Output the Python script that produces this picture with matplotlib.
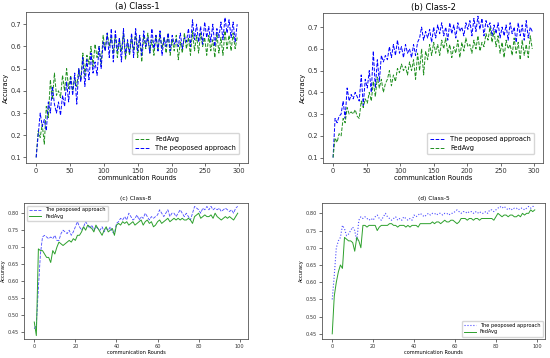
import numpy as np
import matplotlib.pyplot as plt

# (a) Class-1 / (b) Class-2: 300 rounds, sampled every 3 rounds
x_top = np.arange(0, 300, 3)

a_fedavg = [0.10, 0.22, 0.19, 0.25, 0.16, 0.33, 0.28, 0.45, 0.36, 0.48,
            0.38, 0.40, 0.37, 0.47, 0.40, 0.50, 0.41, 0.47, 0.40, 0.46,
            0.42, 0.50, 0.45, 0.57, 0.47, 0.56, 0.52, 0.60, 0.51, 0.61,
            0.55, 0.60, 0.52, 0.65, 0.58, 0.66, 0.60, 0.64, 0.57, 0.65,
            0.55, 0.63, 0.58, 0.66, 0.54, 0.62, 0.56, 0.64, 0.58, 0.66,
            0.55, 0.64, 0.53, 0.65, 0.59, 0.66, 0.57, 0.63, 0.56, 0.65,
            0.58, 0.66, 0.59, 0.64, 0.57, 0.66, 0.56, 0.63, 0.58, 0.65,
            0.54, 0.62, 0.57, 0.66, 0.59, 0.64, 0.56, 0.67, 0.58, 0.65,
            0.57, 0.66, 0.60, 0.64, 0.56, 0.65, 0.58, 0.63, 0.55, 0.66,
            0.57, 0.64, 0.56, 0.67, 0.59, 0.65, 0.58, 0.66, 0.59, 0.64]
a_proposed = [0.10, 0.20, 0.30, 0.24, 0.27, 0.22, 0.35, 0.30, 0.42, 0.34,
              0.30, 0.35, 0.29, 0.38, 0.33, 0.44, 0.35, 0.46, 0.38, 0.48,
              0.34, 0.50, 0.44, 0.55, 0.42, 0.54, 0.45, 0.57, 0.48, 0.53,
              0.47, 0.60, 0.50, 0.62, 0.58, 0.66, 0.55, 0.68, 0.53, 0.67,
              0.58, 0.64, 0.53, 0.68, 0.56, 0.63, 0.57, 0.66, 0.55, 0.68,
              0.58, 0.65, 0.56, 0.67, 0.60, 0.64, 0.57, 0.68, 0.59, 0.65,
              0.58, 0.67, 0.56, 0.64, 0.60, 0.66, 0.58, 0.65, 0.61, 0.63,
              0.60, 0.66, 0.59, 0.64, 0.62, 0.68, 0.60, 0.72, 0.63, 0.70,
              0.62, 0.69, 0.61, 0.71, 0.64, 0.69, 0.62, 0.70, 0.60, 0.68,
              0.64, 0.71, 0.63, 0.73, 0.66, 0.72, 0.64, 0.71, 0.62, 0.70]

b_proposed = [0.10, 0.28, 0.26, 0.29, 0.30, 0.36, 0.28, 0.42, 0.36, 0.39,
              0.37, 0.40, 0.38, 0.36, 0.48, 0.34, 0.46, 0.42, 0.50, 0.40,
              0.59, 0.42, 0.55, 0.45, 0.57, 0.54, 0.57, 0.55, 0.61, 0.56,
              0.62, 0.57, 0.64, 0.58, 0.61, 0.56, 0.62, 0.58, 0.60, 0.56,
              0.62, 0.57, 0.63, 0.65, 0.70, 0.64, 0.68, 0.65, 0.69, 0.63,
              0.70, 0.65, 0.71, 0.67, 0.72, 0.66, 0.70, 0.64, 0.72, 0.67,
              0.71, 0.65, 0.72, 0.68, 0.70, 0.66, 0.72, 0.69, 0.73, 0.66,
              0.74, 0.68, 0.75, 0.69, 0.74, 0.66, 0.73, 0.70, 0.72, 0.66,
              0.71, 0.67, 0.72, 0.65, 0.70, 0.66, 0.71, 0.64, 0.72, 0.67,
              0.70, 0.63, 0.72, 0.66, 0.71, 0.64, 0.73, 0.65, 0.70, 0.68]
b_fedavg = [0.10, 0.19, 0.17, 0.21, 0.20, 0.28, 0.26, 0.33, 0.30, 0.31,
            0.30, 0.32, 0.29, 0.28, 0.36, 0.33, 0.37, 0.35, 0.40, 0.36,
            0.45, 0.38, 0.47, 0.42, 0.46, 0.40, 0.44, 0.46, 0.50, 0.43,
            0.48, 0.45, 0.51, 0.49, 0.53, 0.50, 0.52, 0.48, 0.54, 0.50,
            0.55, 0.46, 0.58, 0.50, 0.60, 0.48, 0.59, 0.55, 0.62, 0.57,
            0.63, 0.58, 0.62, 0.57, 0.64, 0.60, 0.65, 0.58, 0.62, 0.56,
            0.61, 0.58, 0.64, 0.56, 0.63, 0.59, 0.65, 0.61, 0.62, 0.58,
            0.64, 0.60, 0.66, 0.59, 0.63, 0.61, 0.67, 0.64, 0.70, 0.63,
            0.68, 0.61, 0.66, 0.58, 0.63, 0.56, 0.64, 0.60, 0.62, 0.57,
            0.65, 0.58, 0.63, 0.55, 0.64, 0.57, 0.62, 0.56, 0.66, 0.60]

# (c) Class-8 / (d) Class-5: 100 rounds
x_bot = np.arange(100)

c_proposed = [0.46, 0.47, 0.58, 0.68, 0.73, 0.735, 0.73, 0.725, 0.73, 0.725,
              0.735, 0.72, 0.72, 0.74, 0.75, 0.745, 0.74, 0.75, 0.735, 0.745,
              0.76, 0.775, 0.76, 0.75, 0.76, 0.775, 0.765, 0.755, 0.765, 0.75,
              0.76, 0.755, 0.75, 0.76, 0.745, 0.755, 0.75, 0.76, 0.745, 0.74,
              0.77, 0.775, 0.785, 0.78, 0.79, 0.78, 0.80, 0.79, 0.78, 0.785,
              0.795, 0.78, 0.79, 0.785, 0.80, 0.79, 0.78, 0.79, 0.785, 0.79,
              0.795, 0.81, 0.80, 0.79, 0.80, 0.81, 0.79, 0.80, 0.80, 0.79,
              0.80, 0.81, 0.80, 0.79, 0.80, 0.79, 0.78, 0.80, 0.82, 0.815,
              0.81, 0.80, 0.815, 0.81, 0.82, 0.81, 0.82, 0.81, 0.815, 0.81,
              0.815, 0.805, 0.81, 0.815, 0.81, 0.805, 0.81, 0.80, 0.815, 0.82]
c_fedavg = [0.48, 0.44, 0.695, 0.69, 0.69, 0.68, 0.67, 0.67, 0.655, 0.69,
            0.68, 0.70, 0.715, 0.71, 0.705, 0.71, 0.715, 0.72, 0.715, 0.725,
            0.72, 0.735, 0.735, 0.745, 0.76, 0.75, 0.765, 0.76, 0.755, 0.745,
            0.765, 0.755, 0.745, 0.735, 0.75, 0.76, 0.745, 0.75, 0.755, 0.735,
            0.765, 0.77, 0.765, 0.775, 0.77, 0.775, 0.765, 0.77, 0.775, 0.765,
            0.77, 0.775, 0.78, 0.765, 0.775, 0.78, 0.77, 0.775, 0.76, 0.765,
            0.775, 0.78, 0.77, 0.775, 0.78, 0.785, 0.775, 0.78, 0.785, 0.78,
            0.785, 0.78, 0.785, 0.78, 0.78, 0.785, 0.78, 0.77, 0.79, 0.795,
            0.80, 0.785, 0.79, 0.795, 0.79, 0.79, 0.795, 0.785, 0.80, 0.79,
            0.785, 0.78, 0.785, 0.79, 0.785, 0.79, 0.785, 0.78, 0.79, 0.80]

d_proposed = [0.55, 0.62, 0.70, 0.72, 0.73, 0.765, 0.755, 0.735, 0.74, 0.75,
              0.76, 0.75, 0.72, 0.78, 0.79, 0.785, 0.79, 0.785, 0.78, 0.785,
              0.78, 0.79, 0.795, 0.785, 0.78, 0.79, 0.80, 0.79, 0.785, 0.78,
              0.785, 0.79, 0.78, 0.785, 0.78, 0.79, 0.785, 0.78, 0.785, 0.78,
              0.795, 0.79, 0.795, 0.80, 0.795, 0.79, 0.795, 0.80, 0.795, 0.80,
              0.80, 0.795, 0.80, 0.80, 0.795, 0.80, 0.80, 0.795, 0.80, 0.80,
              0.805, 0.81, 0.805, 0.80, 0.805, 0.805, 0.80, 0.805, 0.805, 0.80,
              0.805, 0.80, 0.805, 0.80, 0.80, 0.805, 0.80, 0.81, 0.81, 0.805,
              0.81, 0.815, 0.82, 0.815, 0.82, 0.815, 0.81, 0.815, 0.81, 0.815,
              0.815, 0.81, 0.815, 0.815, 0.81, 0.815, 0.82, 0.815, 0.82, 0.82]
d_fedavg = [0.45, 0.56, 0.60, 0.63, 0.65, 0.64, 0.73, 0.725, 0.72, 0.72,
            0.715, 0.69, 0.73, 0.72, 0.70, 0.765, 0.765, 0.76, 0.765, 0.765,
            0.765, 0.765, 0.75, 0.76, 0.765, 0.765, 0.765, 0.765, 0.77, 0.77,
            0.765, 0.765, 0.76, 0.765, 0.765, 0.765, 0.76, 0.765, 0.76, 0.765,
            0.765, 0.765, 0.76, 0.77, 0.77, 0.77, 0.77, 0.77, 0.77, 0.775,
            0.77, 0.775, 0.775, 0.77, 0.775, 0.78, 0.775, 0.775, 0.78, 0.78,
            0.775, 0.77, 0.775, 0.785, 0.785, 0.785, 0.78, 0.785, 0.785, 0.78,
            0.785, 0.785, 0.78, 0.785, 0.785, 0.785, 0.785, 0.785, 0.785, 0.78,
            0.79, 0.80, 0.795, 0.79, 0.795, 0.795, 0.79, 0.795, 0.795, 0.79,
            0.79, 0.795, 0.79, 0.80, 0.795, 0.80, 0.80, 0.81, 0.805, 0.81]

W, H = 550, 358
fig = plt.figure(figsize=(W / 100, H / 100), dpi=100)


def box(x0, y0, x1, y1):
    return [x0 / W, 1 - y1 / H, (x1 - x0) / W, (y1 - y0) / H]


def style(ax, fs):
    for s in ax.spines.values():
        s.set_color('#555555')
        s.set_linewidth(0.6)
    ax.tick_params(labelsize=fs, width=0.5, length=2, pad=1.5, colors='#333333')
    ax.set_xlabel('communication Rounds', fontsize=fs, labelpad=1)
    ax.set_ylabel('Accuracy', fontsize=fs, labelpad=1)


# top row
ax = fig.add_axes(box(26, 12, 248, 163))
ax.plot(x_top, a_fedavg, '--', color='#1f8f1f', lw=0.7, label='FedAvg')
ax.plot(x_top, a_proposed, '--', color='#0000ff', lw=0.7, label='The peoposed approach')
ax.set_ylim(0.075, 0.755)
ax.set_xlim(-15, 313)
ax.set_xticks([0, 50, 100, 150, 200, 250, 300])
ax.set_yticks([0.1, 0.2, 0.3, 0.4, 0.5, 0.6, 0.7])
ax.set_title('(a) Class-1', fontsize=6, pad=2)
style(ax, 4.8)
ax.legend(loc='lower right', fontsize=4.8, handlelength=2.2, borderpad=0.5,
          labelspacing=0.4, borderaxespad=1.3)

ax = fig.add_axes(box(323, 13, 543, 163))
ax.plot(x_top, b_proposed, '--', color='#0000ff', lw=0.7, label='The peoposed approach')
ax.plot(x_top, b_fedavg, '--', color='#1f8f1f', lw=0.7, label='FedAvg')
ax.set_ylim(0.075, 0.765)
ax.set_xlim(-15, 313)
ax.set_xticks([0, 50, 100, 150, 200, 250, 300])
ax.set_yticks([0.1, 0.2, 0.3, 0.4, 0.5, 0.6, 0.7])
ax.set_title('(b) Class-2', fontsize=6, pad=2)
style(ax, 4.8)
ax.legend(loc='lower right', fontsize=4.8, handlelength=2.2, borderpad=0.5,
          labelspacing=0.4, borderaxespad=1.3)

# bottom row
ax = fig.add_axes(box(24, 203, 248, 339))
ax.plot(x_bot, c_proposed, '--', color='#4a4aff', lw=0.6, label='The peoposed approach')
ax.plot(x_bot, c_fedavg, '-', color='#2ca02c', lw=0.7, label='FedAvg')
ax.set_ylim(0.43, 0.83)
ax.set_xlim(-5, 104)
ax.set_xticks([0, 20, 40, 60, 80, 100])
ax.set_yticks([0.45, 0.50, 0.55, 0.60, 0.65, 0.70, 0.75, 0.80])
ax.set_title('(c) Class-8', fontsize=4.2, pad=2)
style(ax, 3.6)
ax.legend(loc='upper left', fontsize=3.6, handlelength=2.5, borderpad=0.4, labelspacing=0.3)

ax = fig.add_axes(box(322, 203, 545, 339))
ax.plot(x_bot, d_proposed, ':', color='#4a4aff', lw=0.8, label='The peoposed approach')
ax.plot(x_bot, d_fedavg, '-', color='#2ca02c', lw=0.7, label='FedAvg')
ax.set_ylim(0.435, 0.83)
ax.set_xlim(-5, 104)
ax.set_xticks([0, 20, 40, 60, 80, 100])
ax.set_yticks([0.45, 0.50, 0.55, 0.60, 0.65, 0.70, 0.75, 0.80])
ax.set_title('(d) Class-5', fontsize=4.2, pad=2)
style(ax, 3.6)
ax.legend(loc='lower right', fontsize=3.6, handlelength=2.5, borderpad=0.4, labelspacing=0.3)

fig.savefig('out.png', dpi=100)
